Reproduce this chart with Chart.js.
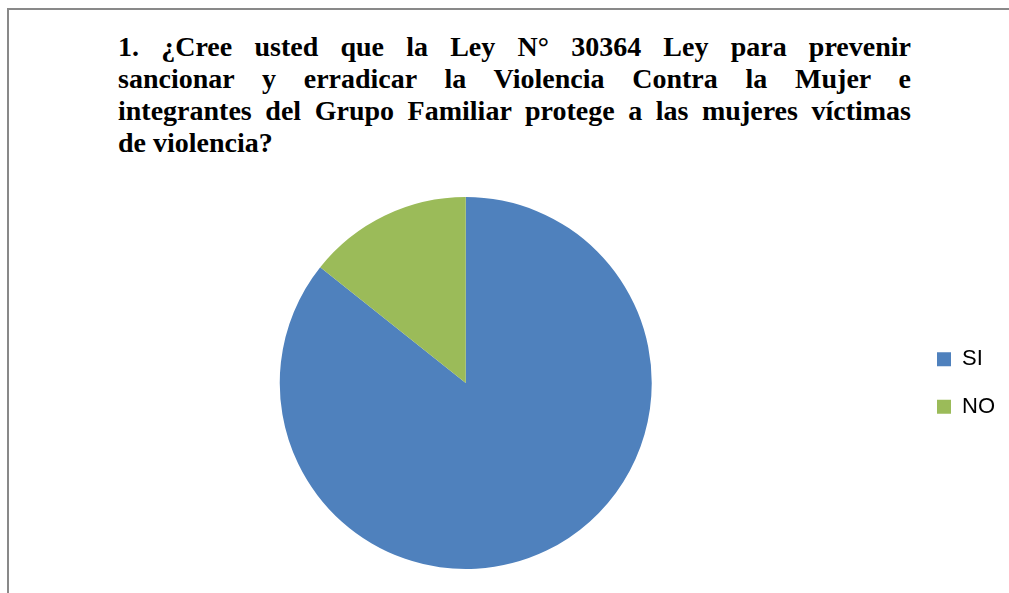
<!DOCTYPE html>
<html>
<head>
<meta charset="utf-8">
<script src="https://cdn.jsdelivr.net/npm/chart.js@4"></script>
<style>
  html, body { margin: 0; padding: 0; background: #fff; }
  body { width: 1009px; height: 593px; position: relative; overflow: hidden; }
  #frame {
    position: absolute; left: 7px; top: 8px; right: -10px; bottom: -10px;
    border-left: 2px solid #898989; border-top: 2px solid #898989;
  }
  #title {
    position: absolute; left: 118px; top: 31px; width: 793px;
    font-family: "Liberation Serif", "Times New Roman", serif;
    font-weight: bold; font-size: 28px; line-height: 32px; color: #000;
  }
  #title div { text-align: justify; text-align-last: justify; white-space: nowrap; }
  #title div.last { text-align-last: left; }
  #wrap { position: absolute; left: 0; top: 0; width: 1009px; height: 593px; }
</style>
</head>
<body>
<div id="frame"></div>
<div id="title">
  <div>1. ¿Cree usted que la Ley N° 30364 Ley para prevenir</div>
  <div>sancionar y erradicar la Violencia Contra la Mujer e</div>
  <div>integrantes del Grupo Familiar protege a las mujeres víctimas</div>
  <div class="last">de violencia?</div>
</div>
<div id="wrap"><canvas id="chart"></canvas></div>
<script>
// Datos del gráfico
const categorias = ["SI", "NO"];
const valores = [85.7, 14.3];
const colores = ["#4F81BD", "#9BBB59"];

const ctx = document.getElementById("chart").getContext("2d");

new Chart(ctx, {
    type: "pie",
    data: {
        labels: categorias,
        datasets: [
            {
                data: valores,
                backgroundColor: colores,
                borderWidth: 0,
            },
        ],
    },
    options: {
        responsive: true,
        maintainAspectRatio: false,
        animation: false,
        layout: {
            padding: { top: 197, bottom: 24, left: 20, right: 4 },
        },
        plugins: {
            tooltip: { enabled: false },
            legend: {
                display: true,
                position: "right",
                labels: {
                    boxWidth: 14,
                    boxHeight: 14,
                    padding: 25.5,
                    color: "#000",
                    font: { family: "'Liberation Sans', Arial, sans-serif", size: 22 },
                },
            },
        },
    },
});
</script>
</body>
</html>
